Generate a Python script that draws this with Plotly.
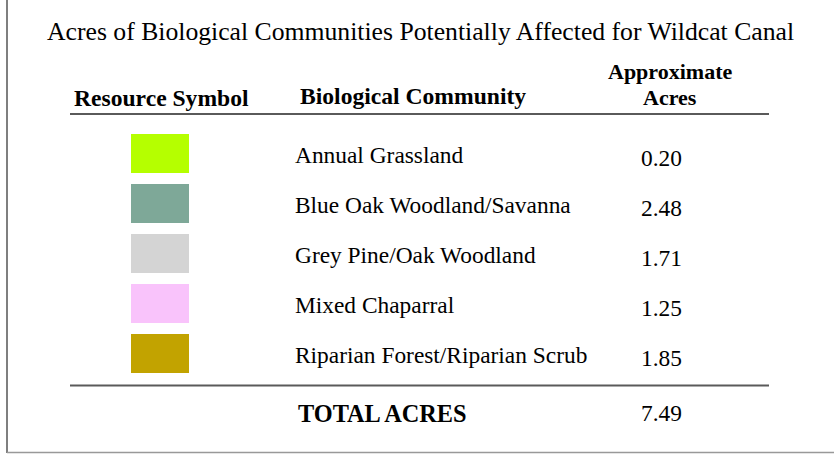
import plotly.graph_objects as go

title = "Acres of Biological Communities Potentially Affected for Wildcat Canal"
col_headers = ["Resource Symbol", "Biological Community", "Approximate", "Acres"]
communities = ["Annual Grassland", "Blue Oak Woodland/Savanna", "Grey Pine/Oak Woodland",
               "Mixed Chaparral", "Riparian Forest/Riparian Scrub"]
acres = [0.20, 2.48, 1.71, 1.25, 1.85]
symbol_colors = ["#b5ff00", "#7ea898", "#d4d4d4", "#f9c3fb", "#c2a300"]
total_label = "TOTAL ACRES"

W, H = 834, 455
ROW0, ROWH = 153.5, 50.0


def ry(p):
    return (p - ROW0) / ROWH


FONT = "Liberation Serif, Times New Roman, serif"
fig = go.Figure()

rows = list(range(len(communities)))
fig.add_trace(go.Bar(
    orientation="h", y=rows, x=[58] * len(rows), base=131, width=39 / ROWH,
    marker=dict(color=symbol_colors, line=dict(width=0)), hoverinfo="skip",
    showlegend=False,
))

ann = []
ann.append(dict(x=420, y=ry(31), text=title, xanchor="center", yanchor="middle",
                font=dict(size=25.7, color="#000")))
ann.append(dict(x=72, y=ry(98), text="<b>" + col_headers[0] + "</b>", xanchor="left",
                yanchor="middle", font=dict(size=23.6, color="#000")))
ann.append(dict(x=298, y=ry(96), text="<b>" + col_headers[1] + "</b>", xanchor="left",
                yanchor="middle", font=dict(size=23.6, color="#000")))
ann.append(dict(x=670, y=ry(71), text="<b>" + col_headers[2] + "</b>", xanchor="center",
                yanchor="middle", font=dict(size=22, color="#000"), borderpad=0))
ann.append(dict(x=670, y=ry(97), text="<b>" + col_headers[3] + "</b>", xanchor="center",
                yanchor="middle", font=dict(size=22, color="#000"), borderpad=0))

for i, (c, v) in enumerate(zip(communities, acres)):
    ann.append(dict(x=293, y=i + ry(155) - ry(ROW0), text=c, xanchor="left",
                    yanchor="middle", font=dict(size=23.4, color="#000")))
    ann.append(dict(x=661, y=i + (ry(158) - ry(ROW0)), text=f"{v:.2f}", xanchor="center",
                    yanchor="middle", font=dict(size=23.4, color="#000")))

total = round(sum(acres), 2)
ann.append(dict(x=296, y=ry(413), text="<b>" + total_label + "</b>", xanchor="left",
                yanchor="middle", font=dict(size=24.3, color="#000")))
ann.append(dict(x=661, y=ry(413), text=f"{total:.2f}", xanchor="center",
                yanchor="middle", font=dict(size=23.4, color="#000")))

for a in ann:
    a.update(xref="x", yref="y", showarrow=False, font_family=FONT)

shapes = [
    dict(type="line", xref="x", yref="y", x0=70, x1=769, y0=ry(114), y1=ry(114),
         line=dict(color="#5a5a5a", width=2)),
    dict(type="line", xref="x", yref="y", x0=70, x1=769, y0=ry(385.5), y1=ry(385.5),
         line=dict(color="#5a5a5a", width=2)),
    dict(type="line", xref="x", yref="y", x0=7, x1=7, y0=ry(0), y1=ry(453),
         line=dict(color="#555555", width=1.5)),
    dict(type="line", xref="x", yref="y", x0=7, x1=834, y0=ry(452.5), y1=ry(452.5),
         line=dict(color="#999999", width=1.5)),
]

fig.update_layout(
    width=W, height=H, margin=dict(l=0, r=0, t=0, b=0),
    paper_bgcolor="white", plot_bgcolor="white",
    xaxis=dict(range=[0, W], visible=False, fixedrange=True),
    yaxis=dict(range=[ry(H), ry(0)], visible=False, fixedrange=True),
    annotations=ann, shapes=shapes, showlegend=False,
    font=dict(family=FONT),
)

fig.write_html("out.html", config={"displayModeBar": False},
               post_script="document.body.style.margin='0';")
